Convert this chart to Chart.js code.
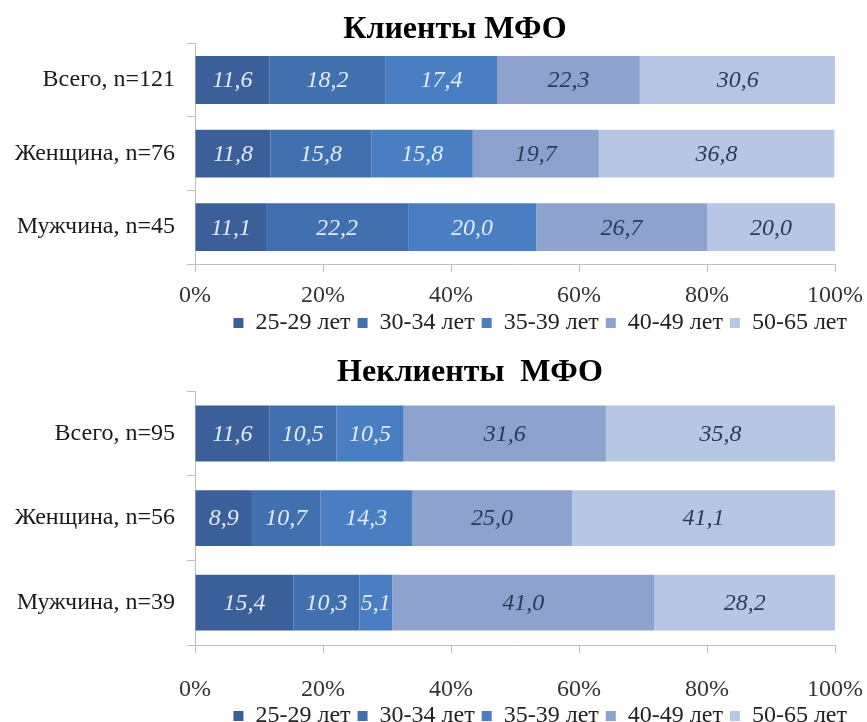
<!DOCTYPE html>
<html lang="ru">
<head>
<meta charset="utf-8">
<title>Возраст клиентов и неклиентов МФО</title>
<script src="https://cdn.jsdelivr.net/npm/chart.js@4/dist/chart.umd.min.js"></script>
<style>
html, body { margin: 0; padding: 0; background: #fff; }
#wrap { position: relative; width: 867px; height: 722px; overflow: hidden; }
.box { position: absolute; left: 0; width: 867px; }
#boxTop { top: 0; height: 345px; }
#boxBottom { top: 345px; height: 393px; }
</style>
</head>
<body>
<div id="wrap">
	<div class="box" id="boxTop"><canvas id="cTop"></canvas></div>
	<div class="box" id="boxBottom"><canvas id="cBottom"></canvas></div>
</div>
<script>
// возрастные группы (серии)
const ageGroups = ['25-29 лет', '30-34 лет', '35-39 лет', '40-49 лет', '50-65 лет'];

// строки: Всего / Женщина / Мужчина
const clientRows = ['Всего, n=121', 'Женщина, n=76', 'Мужчина, n=45'];
const nonClientRows = ['Всего, n=95', 'Женщина, n=56', 'Мужчина, n=39'];

// Клиенты МФО, %
const client2529 = [11.6, 11.8, 11.1];
const client3034 = [18.2, 15.8, 22.2];
const client3539 = [17.4, 15.8, 20.0];
const client4049 = [22.3, 19.7, 26.7];
const client5065 = [30.6, 36.8, 20.0];

// Неклиенты МФО, %
const nonClient2529 = [11.6, 8.9, 15.4];
const nonClient3034 = [10.5, 10.7, 10.3];
const nonClient3539 = [10.5, 14.3, 5.1];
const nonClient4049 = [31.6, 25.0, 41.0];
const nonClient5065 = [35.8, 41.1, 28.2];

// деления оси X
const xTicks = [0, 20, 40, 60, 80, 100];

const barColors = ['#3b5f98', '#4270ae', '#4a7ec2', '#8da3cd', '#b7c6e2'];
const valueColors = ['#e2eaf7', '#e2eaf7', '#e2eaf7', '#2b3b5a', '#2b3b5a'];
const FONT = '"Liberation Serif", "Times New Roman", serif';

// подписи значений в центре каждого сегмента
const valueLabels = {
	id: 'valueLabels',
	afterLayout(chart){
		// подписи оси Y не обрезаем по левому отступу
		chart.scales.y.left = 0;
	},
	afterDatasetsDraw(chart){
		const ctx = chart.ctx;
		ctx.save();
		ctx.font = 'italic 24px ' + FONT;
		ctx.textAlign = 'center';
		ctx.textBaseline = 'middle';
		chart.data.datasets.forEach((ds, i) => {
			chart.getDatasetMeta(i).data.forEach((bar, j) => {
				const v = ds.data[j];
				ctx.fillStyle = valueColors[i];
				ctx.fillText(v.toFixed(1).replace('.', ','), (bar.x + bar.base) / 2, bar.y + 1);
			});
		});
		ctx.restore();
	}
};

function makeChart(id, title, rows, series, o){
	return new Chart(document.getElementById(id), {
		type: 'bar',
		data: {
			labels: rows,
			datasets: series.map((d, i) => ({
				label: ageGroups[i],
				data: d,
				backgroundColor: barColors[i],
				borderWidth: 0,
				categoryPercentage: 1,
				barPercentage: o.barPct
			}))
		},
		options: {
			indexAxis: 'y',
			responsive: true,
			maintainAspectRatio: false,
			animation: false,
			layout: { padding: { left: o.padLeft, right: 13, top: 0, bottom: 0 } },
			scales: {
				x: {
					stacked: true,
					min: 0,
					max: 100,
					afterBuildTicks: (s) => { s.ticks = xTicks.map(v => ({ value: v })); },
					afterFit: (s) => {
						s.height = o.xHeight;
						s.paddingRight = 32; // место справа под «100%»
					},
					grid: { drawOnChartArea: false, tickLength: 8, color: '#bfbfbf' },
					border: { color: '#bfbfbf' },
					ticks: {
						padding: o.xPad,
						color: '#333',
						font: { family: FONT, size: 24, lineHeight: 1 },
						callback: (v) => v + '%'
					}
				},
				y: {
					stacked: true,
					afterFit: (s) => { s.width = 195 - o.padLeft; },
					grid: { drawOnChartArea: false, tickLength: 8, color: '#bfbfbf' },
					border: { color: '#bfbfbf' },
					ticks: { padding: 12, color: '#1a1a1a', font: { family: FONT, size: 24 } }
				}
			},
			plugins: {
				title: {
					display: true,
					text: title,
					color: '#000',
					font: { family: FONT, size: 32, weight: 'bold', lineHeight: 0.85 },
					padding: { top: o.titleTop, bottom: o.titleBottom }
				},
				legend: {
					position: 'bottom',
					align: 'end',
					labels: {
						boxWidth: 10,
						boxHeight: 10,
						padding: 7,
						color: '#222',
						font: { family: FONT, size: 24 }
					}
				},
				tooltip: { enabled: false }
			}
		},
		plugins: [valueLabels]
	});
}

makeChart('cTop', 'Клиенты МФО', clientRows,
	[client2529, client3034, client3539, client4049, client5065],
	{ padLeft: 56, barPct: 0.65, xPad: 12, xHeight: 40, titleTop: 16, titleBottom: 0 });

makeChart('cBottom', 'Неклиенты  МФО', nonClientRows,
	[nonClient2529, nonClient3034, nonClient3539, nonClient4049, nonClient5065],
	{ padLeft: 86, barPct: 0.66, xPad: 25, xHeight: 52, titleTop: 14, titleBottom: 5 });
</script>
</body>
</html>
